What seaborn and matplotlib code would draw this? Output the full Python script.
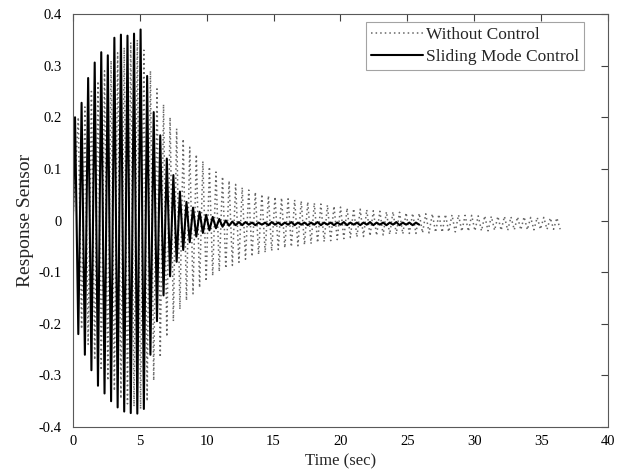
import numpy as np
import pandas as pd
import matplotlib
matplotlib.use("Agg")
import matplotlib.pyplot as plt
import seaborn as sns

# ---------------- data ----------------
period = 0.49  # s, oscillation period (read from peak spacing)

# Without control: peak / trough values per cycle
wc_peaks = [0.20, 0.22, 0.25, 0.27, 0.29, 0.31, 0.325, 0.335, 0.345, 0.35,
            0.33, 0.29, 0.255, 0.225, 0.20, 0.178, 0.158, 0.142, 0.128, 0.115,
            0.104, 0.094, 0.085, 0.077, 0.070, 0.064, 0.059, 0.055, 0.051, 0.048,
            0.046, 0.044, 0.042, 0.040, 0.038, 0.036, 0.034, 0.032, 0.030, 0.028,
            0.026, 0.024, 0.023, 0.022, 0.021, 0.019, 0.018, 0.017, 0.017, 0.016,
            0.015, 0.014, 0.014, 0.013, 0.013, 0.012, 0.012, 0.011, 0.011, 0.010,
            0.010, 0.009, 0.009, 0.008, 0.008, 0.008, 0.007, 0.007, 0.007, 0.006,
            0.006, 0.006, 0.005, 0.005]
wc_troughs = [-0.21, -0.24, -0.27, -0.29, -0.31, -0.33, -0.345, -0.355, -0.36, -0.365,
              -0.35, -0.31, -0.265, -0.225, -0.195, -0.172, -0.155, -0.142, -0.13, -0.118,
              -0.107, -0.099, -0.093, -0.087, -0.081, -0.075, -0.070, -0.066, -0.062, -0.059,
              -0.056, -0.053, -0.051, -0.049, -0.047, -0.045, -0.043, -0.041, -0.039, -0.037,
              -0.035, -0.033, -0.032, -0.031, -0.030, -0.029, -0.028, -0.027, -0.026, -0.026,
              -0.025, -0.025, -0.024, -0.024, -0.023, -0.023, -0.022, -0.022, -0.021, -0.021,
              -0.020, -0.020, -0.020, -0.019, -0.019, -0.019, -0.018, -0.018, -0.018, -0.018,
              -0.017, -0.017, -0.017, -0.017]

# Sliding mode control: peak / trough values per cycle
smc_peaks = [0.20, 0.228, 0.276, 0.306, 0.326, 0.32, 0.354, 0.36, 0.358, 0.362,
             0.37, 0.28, 0.21, 0.165, 0.12, 0.088, 0.056, 0.036, 0.025, 0.017,
             0.011, 0.007, 0.003, 0.0, -0.002, -0.003, -0.003, -0.004, -0.004, -0.004,
             -0.003, -0.004, -0.004, -0.003, -0.004, -0.004, -0.004, -0.003, -0.004, -0.004,
             -0.004, -0.003, -0.004, -0.004, -0.004, -0.003, -0.004, -0.004, -0.004, -0.003,
             -0.004, -0.004, -0.004]
smc_troughs = [-0.22, -0.26, -0.29, -0.32, -0.335, -0.35, -0.362, -0.37, -0.373, -0.374,
               -0.365, -0.26, -0.195, -0.145, -0.108, -0.08, -0.057, -0.042, -0.031, -0.024,
               -0.019, -0.015, -0.012, -0.010, -0.009, -0.009, -0.008, -0.009, -0.008, -0.009,
               -0.008, -0.009, -0.008, -0.009, -0.008, -0.009, -0.008, -0.009, -0.008, -0.009,
               -0.008, -0.009, -0.008, -0.009, -0.008, -0.009, -0.008, -0.009, -0.008, -0.009,
               -0.008, -0.009, -0.008]

series_names = ["Without Control", "Sliding Mode Control"]
x_ticks = [0, 5, 10, 15, 20, 25, 30, 35, 40]
y_ticks = [-0.4, -0.3, -0.2, -0.1, 0, 0.1, 0.2, 0.3, 0.4]
y_tick_labels = ["-0.4", "-0.3", "-0.2", "-0.1", "0", "0.1", "0.2", "0.3", "0.4"]


def build(peaks, troughs, t_first):
    n = len(peaks)
    tp = t_first + period * np.arange(n)
    tt = tp + period / 2
    t = np.empty(2 * n + 1)
    v = np.empty(2 * n + 1)
    t[0], v[0] = 0.0, 0.0
    t[1::2], v[1::2] = tp, peaks
    t[2::2], v[2::2] = tt, troughs
    return t, v


t_wc, v_wc = build(wc_peaks, wc_troughs, 0.405)
t_smc, v_smc = build(smc_peaks, smc_troughs, 0.16)

df = pd.concat([
    pd.DataFrame({"t": t_wc, "v": v_wc, "s": series_names[0]}),
    pd.DataFrame({"t": t_smc, "v": v_smc, "s": series_names[1]}),
])

# ---------------- plotting ----------------
sns.set_style("white")
plt.rcParams["font.family"] = ["Liberation Serif", "DejaVu Serif"]
plt.rcParams["axes.unicode_minus"] = False

fig = plt.figure(figsize=(6.23, 4.75), dpi=100)
ax = fig.add_axes([0.117, 0.101, 0.859, 0.8695])

sns.lineplot(data=df[df.s == series_names[0]], x="t", y="v", ax=ax,
             estimator=None, sort=False, color="0.4", linewidth=1.1,
             linestyle=(0, (1.0, 2.0)), label=series_names[0])
sns.lineplot(data=df[df.s == series_names[1]], x="t", y="v", ax=ax,
             estimator=None, sort=False, color="black", linewidth=1.5,
             linestyle="-", label=series_names[1])

ax.set_xlim(0, 40)
ax.set_ylim(-0.4, 0.4)
ax.set_xticks(x_ticks)
ax.set_xticklabels([str(x) for x in x_ticks])
ax.set_yticks(y_ticks)
ax.set_yticklabels(y_tick_labels)
ax.tick_params(direction="in", length=5, width=0.8, color="0.25",
               top=True, right=True, labelsize=10.5, labelcolor="black")
ax.tick_params(axis="x", pad=5.5)
ax.tick_params(axis="y", pad=8)
for sp in ax.spines.values():
    sp.set_color("0.35")
    sp.set_linewidth(0.8)

ax.set_xlabel("Time (sec)", fontsize=12, labelpad=4)
ax.set_ylabel("Response Sensor", fontsize=14, labelpad=3)

leg = ax.legend(loc="upper right", bbox_to_anchor=(0.955, 0.981),
                borderaxespad=0, fontsize=12.5, frameon=True, fancybox=False,
                handlelength=3.0, handletextpad=0.15, labelspacing=0.3,
                borderpad=0.3)
leg.get_frame().set_edgecolor("0.55")
leg.get_frame().set_linewidth(0.8)

fig.savefig("out.png", dpi=100)
